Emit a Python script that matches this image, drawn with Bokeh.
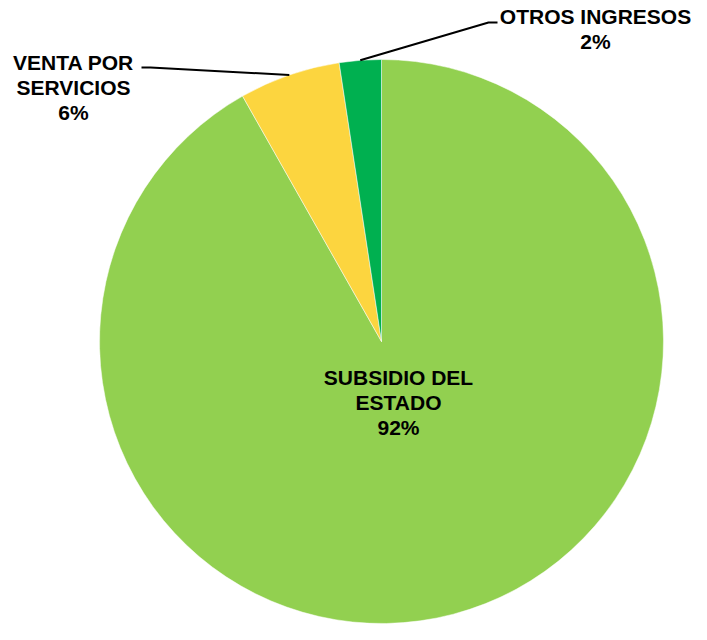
import math
from bokeh.plotting import figure
from bokeh.models import ColumnDataSource, Range1d
from bokeh.core.properties import value
from bokeh.embed import file_html
from bokeh.resources import INLINE

# ---- data ----
categories = ["SUBSIDIO DEL ESTADO", "VENTA POR SERVICIOS", "OTROS INGRESOS"]
label_lines = [["SUBSIDIO DEL", "ESTADO"], ["VENTA POR", "SERVICIOS"], ["OTROS INGRESOS"]]
shares = [91.8, 5.8, 2.4]
colors = ["#92D050", "#FCD53F", "#00B050"]

# ---- layout (pixel coords; y negative downward) ----
W, H = 691, 624
cx, cy, r = 381, -341, 282
FONT = value("Liberation Sans")
FS = "21px"
LH = 25

p = figure(width=W, height=H, output_backend="svg", toolbar_location=None,
           x_range=Range1d(0, W), y_range=Range1d(-H, 0),
           min_border=0, outline_line_color=None)
p.axis.visible = False
p.grid.visible = False
p.background_fill_color = "white"

# Excel style: first slice starts at 12 o'clock, going clockwise.
total = sum(shares)
starts, ends, mids = [], [], []
acc = 0.0
for s in shares:
    a0 = math.pi / 2 - 2 * math.pi * (acc + s) / total
    a1 = math.pi / 2 - 2 * math.pi * acc / total
    starts.append(a0)
    ends.append(a1)
    mids.append((a0 + a1) / 2)
    acc += s

src = ColumnDataSource(dict(start=starts, end=ends, color=colors))
p.wedge(x=cx, y=cy, radius=r, start_angle="start", end_angle="end",
        fill_color="color", line_color="white", line_width=0.5, source=src)

pct = [f"{round(s)}%" for s in shares]

def put_lines(lines, x, y_top):
    ys = [y_top - i * LH for i in range(len(lines))]
    p.text(x=[x] * len(lines), y=ys, text=lines, text_font=FONT,
           text_font_size=FS, text_font_style="bold", text_color="black",
           text_align="center", text_baseline="middle")

# SUBSIDIO label inside the pie
put_lines(label_lines[0] + [pct[0]], 398, -377)

# VENTA label with leader line
put_lines(label_lines[1] + [pct[1]], 73, -62)
ax = cx + r * math.cos(mids[1]); ay = cy + r * math.sin(mids[1])
p.line(x=[141, 150, ax], y=[-67, -67, ay], line_color="black", line_width=2)

# OTROS label with leader line
put_lines(label_lines[2] + [pct[2]], 595, -16)
bx = cx + r * math.cos(mids[2]); by = cy + r * math.sin(mids[2])
p.line(x=[bx, 488, 497], y=[by, -22, -22], line_color="black", line_width=2)

open("out.html", "w").write(file_html(p, INLINE))
